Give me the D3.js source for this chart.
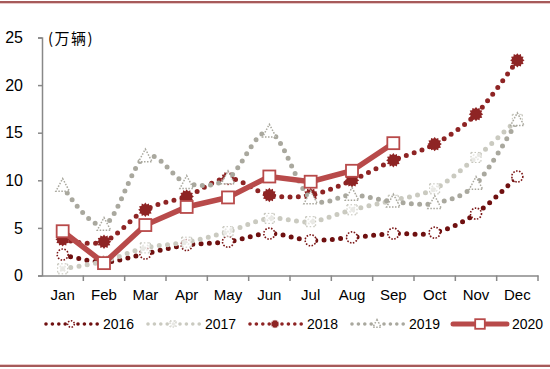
<!DOCTYPE html>
<html><head><meta charset="utf-8">
<script src="https://cdn.jsdelivr.net/npm/d3@7"></script>
<style>body{margin:0;background:#fff}svg{display:block;font-family:"Liberation Sans",Arial,sans-serif}</style>
</head><body><svg id="c" width="550" height="369"></svg>
<script>
const months = ["Jan","Feb","Mar","Apr","May","Jun","Jul","Aug","Sep","Oct","Nov","Dec"];
const yTicks = [0,5,10,15,20,25];
const unitLabel = "(万辆)";
const s2016 = [2.2,1.4,2.3,3.2,3.55,4.4,3.7,4.0,4.4,4.5,6.5,10.4];
const s2017 = [0.7,1.5,2.9,3.5,4.6,6.0,5.65,6.9,7.9,9.1,12.4,16.4];
const s2018 = [3.8,3.55,6.9,8.3,10.2,8.45,8.45,10.0,12.1,13.8,16.95,22.6];
const s2019 = [9.4,5.3,12.5,9.7,10.2,15.1,8.1,8.45,7.75,7.6,9.6,16.3];
const s2020 = [4.65,1.3,5.3,7.2,8.2,10.4,9.85,11.0,13.9];
const seriesNames = ["2016","2017","2018","2019","2020"];

const series = [
  {name:seriesNames[0], values:s2016, color:"#6f1010", marker:"circle", mcolor:"#7a1515"},
  {name:seriesNames[1], values:s2017, color:"#cacac0", marker:"cross", mcolor:"#c4c4ba"},
  {name:seriesNames[2], values:s2018, color:"#8e2424", marker:"burst", mcolor:"#8e2424"},
  {name:seriesNames[3], values:s2019, color:"#a9a89e", marker:"triangle", mcolor:"#a9a89e"},
  {name:seriesNames[4], values:s2020, color:"#b84a4a", marker:"square", mcolor:"#b84a4a"}
];

const svg = d3.select("#c");
svg.append("rect").attr("x",0).attr("y",1).attr("width",550).attr("height",2).attr("fill","#a65a5a");
svg.append("rect").attr("x",0).attr("y",3).attr("width",550).attr("height",1).attr("fill","#e8c8c8");
svg.append("rect").attr("x",0).attr("y",365).attr("width",550).attr("height",2).attr("fill","#a65a5a");
svg.append("rect").attr("x",0).attr("y",364).attr("width",550).attr("height",1).attr("fill","#e8c8c8");

const x = d3.scaleBand().domain(months).range([42,538]);
const y = d3.scaleLinear().domain([0,25]).range([275.5,37.5]);

const ya = svg.append("g").attr("transform","translate(42,0)")
  .call(d3.axisLeft(y).tickValues(yTicks).tickSize(4).tickPadding(15));
ya.select(".domain").attr("stroke","#888").attr("stroke-width",1.5);
ya.selectAll(".tick line").attr("stroke","#888").attr("stroke-width",1.5);
ya.selectAll(".tick text").attr("font-size",16).attr("fill","#000").attr("font-family","Liberation Sans, Arial");

const xa = svg.append("g").attr("transform","translate(0,275.5)")
  .call(d3.axisBottom(x).tickSize(0).tickPadding(14));
xa.select(".domain").attr("stroke","#888").attr("stroke-width",1.5);
xa.selectAll(".tick text").attr("font-size",15).attr("fill","#000").attr("font-family","Liberation Sans, Arial");
svg.append("g").selectAll("line").data(d3.range(1,13)).join("line")
  .attr("x1",i=>x.range()[0]+i*x.bandwidth()).attr("x2",i=>x.range()[0]+i*x.bandwidth())
  .attr("y1",275.5).attr("y2",281).attr("stroke","#888").attr("stroke-width",1.5);

svg.append("text").attr("x",48).attr("y",44).attr("font-size",15).attr("letter-spacing",1.5).attr("fill","#000")
  .attr("font-family","Noto Sans CJK SC, sans-serif").text(unitLabel);

function drawMarker(g, type, cx, cy, col, scale){
  const k = scale||1;
  if(type==="circle"){
    g.append("circle").attr("cx",cx).attr("cy",cy).attr("r",5.5*k).attr("fill","#fff")
      .attr("stroke",col).attr("stroke-width",1.6).attr("stroke-dasharray","1.5 1.5");
  } else if(type==="cross"){
    const r=5*k;
    g.append("path").attr("d",`M${cx-r},${cy-r}L${cx+r},${cy+r}M${cx+r},${cy-r}L${cx-r},${cy+r}`)
      .attr("stroke",col).attr("stroke-width",2).attr("stroke-dasharray","1.5 1.5").attr("fill","none");
    g.append("rect").attr("x",cx-r).attr("y",cy-r).attr("width",2*r).attr("height",2*r)
      .attr("fill","#fff").attr("fill-opacity",0.6).attr("stroke",col).attr("stroke-width",1).attr("stroke-dasharray","1.5 2");
  } else if(type==="burst"){
    const pts=[]; const n=12;
    for(let i=0;i<2*n;i++){const a=Math.PI*i/n; const r=(i%2?5.5:7.2)*k; pts.push([cx+r*Math.cos(a),cy+r*Math.sin(a)]);}
    g.append("path").attr("d","M"+pts.map(p=>p.join(",")).join("L")+"Z").attr("fill",col);
  } else if(type==="triangle"){
    const r=7.5*k;
    g.append("path").attr("d",`M${cx},${cy-r}L${cx+r*0.9},${cy+r*0.7}L${cx-r*0.9},${cy+r*0.7}Z`)
      .attr("fill","#fff").attr("stroke",col).attr("stroke-width",1.5).attr("stroke-dasharray","1.5 1.5");
  } else if(type==="square"){
    const r=6*k;
    g.append("rect").attr("x",cx-r).attr("y",cy-r).attr("width",2*r).attr("height",2*r)
      .attr("fill","#fff").attr("stroke",col).attr("stroke-width",1.8);
  }
}

const cx = i => x(months[i]) + x.bandwidth()/2;
const smooth = d3.line().x((d,i)=>cx(i)).y(d=>y(d)).curve(d3.curveCatmullRom.alpha(0));
const straight = d3.line().x((d,i)=>cx(i)).y(d=>y(d));

const plot = svg.append("g");
series.forEach(s=>{
  const g = plot.append("g");
  if(s.marker==="square"){
    g.append("path").attr("d",straight(s.values)).attr("fill","none").attr("stroke",s.color)
      .attr("stroke-width",5.5);
  } else {
    g.append("path").attr("d",smooth(s.values)).attr("fill","none").attr("stroke",s.color)
      .attr("stroke-width",5).attr("stroke-linecap","round").attr("stroke-dasharray","0 8.3");
  }
  s.values.forEach((v,i)=>drawMarker(g,s.marker,cx(i),y(v),s.mcolor));
});

const lg = svg.append("g");
const lx = [44,146,248,350,451];
series.forEach((s,i)=>{
  const g = lg.append("g");
  const x0 = lx[i], yy = 324;
  if(s.marker==="square"){
    g.append("line").attr("x1",x0+2).attr("x2",x0+56).attr("y1",yy).attr("y2",yy)
      .attr("stroke",s.color).attr("stroke-width",5).attr("stroke-linecap","round");
    drawMarker(g,"square",x0+29,yy,s.mcolor,0.8);
    g.append("text").attr("x",x0+61).attr("y",yy+5).attr("font-size",14).text(s.name);
  } else {
    g.append("line").attr("x1",x0+2).attr("x2",x0+56).attr("y1",yy).attr("y2",yy)
      .attr("stroke",s.color).attr("stroke-width",3.6).attr("stroke-linecap","round").attr("stroke-dasharray","0 6.4");
    drawMarker(g,s.marker,x0+27,yy,s.mcolor,0.6);
    g.append("text").attr("x",x0+59).attr("y",yy+5).attr("font-size",14).text(s.name);
  }
});
</script></body></html>
